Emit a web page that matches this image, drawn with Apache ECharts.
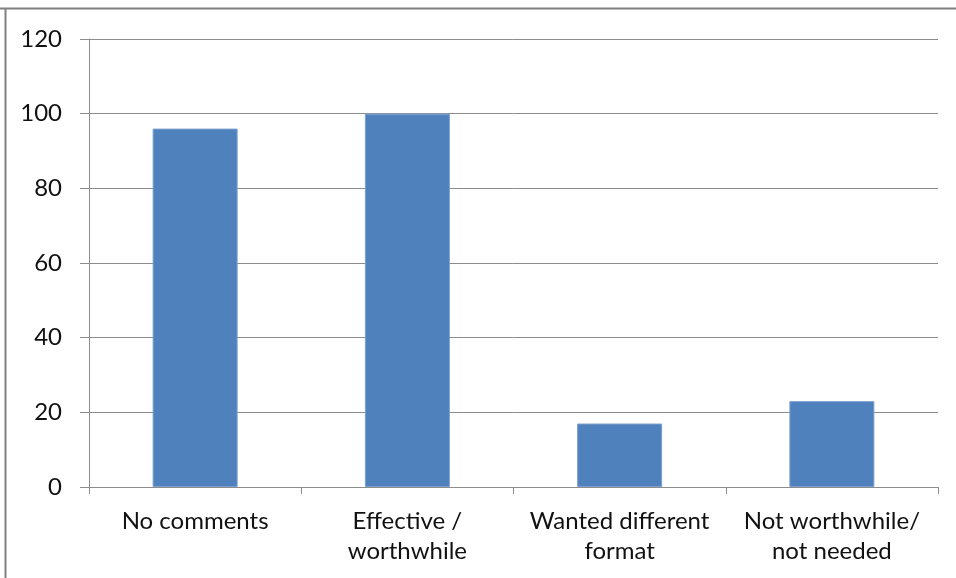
<!DOCTYPE html>
<html>
<head>
<meta charset="utf-8">
<script src="https://cdn.jsdelivr.net/npm/echarts@6/dist/echarts.min.js"></script>
<style>
  html, body { margin: 0; padding: 0; background: #ffffff; }
  #chart { width: 956px; height: 578px; }
</style>
</head>
<body>
<div id="chart"></div>
<script>
// Feedback categories (line breaks as shown under the axis)
var categories = ['No comments', 'Effective /\nworthwhile', 'Wanted different\nformat', 'Not worthwhile/\nnot needed'];
// Number of responses per category
var counts = [96, 100, 17, 23];
// Value axis ticks
var yMin = 0, yMax = 120, yStep = 20;

var FONT = 'Lato, "Open Sans", "Liberation Sans", sans-serif';
var GRID = '#8c8c8c';

var chart = echarts.init(document.getElementById('chart'), null, { renderer: 'canvas' });
chart.setOption({
  animation: false,
  backgroundColor: '#ffffff',
  graphic: [
    { type: 'line', shape: { x1: 0, y1: 8.5, x2: 956, y2: 8.5 }, style: { stroke: '#808080', lineWidth: 2 } },
    { type: 'line', shape: { x1: 5.5, y1: 8, x2: 5.5, y2: 578 }, style: { stroke: '#808080', lineWidth: 2 } }
  ],
  grid: { left: 89, right: 18, top: 39, bottom: 91, containLabel: false },
  xAxis: {
    type: 'category',
    data: categories,
    boundaryGap: true,
    axisLine: { show: true, lineStyle: { color: GRID, width: 1 } },
    axisTick: { show: true, length: 7, alignWithLabel: false, lineStyle: { color: GRID } },
    axisLabel: {
      interval: 0, margin: 19, color: '#111111', fontFamily: FONT, fontSize: 24, lineHeight: 30
    },
    splitLine: { show: false }
  },
  yAxis: {
    type: 'value',
    min: yMin, max: yMax, interval: yStep,
    axisLine: { show: true, lineStyle: { color: GRID, width: 1 } },
    axisTick: { show: true, length: 9, lineStyle: { color: GRID } },
    axisLabel: { margin: 27, color: '#111111', fontFamily: FONT, fontSize: 24 },
    splitLine: { show: true, lineStyle: { color: GRID, width: 1 } }
  },
  series: [{
    type: 'bar',
    data: counts,
    barWidth: 85,
    itemStyle: { color: '#4f81bd', borderColor: '#7a9fd0', borderWidth: 1 }
  }]
});
</script>
</body>
</html>
